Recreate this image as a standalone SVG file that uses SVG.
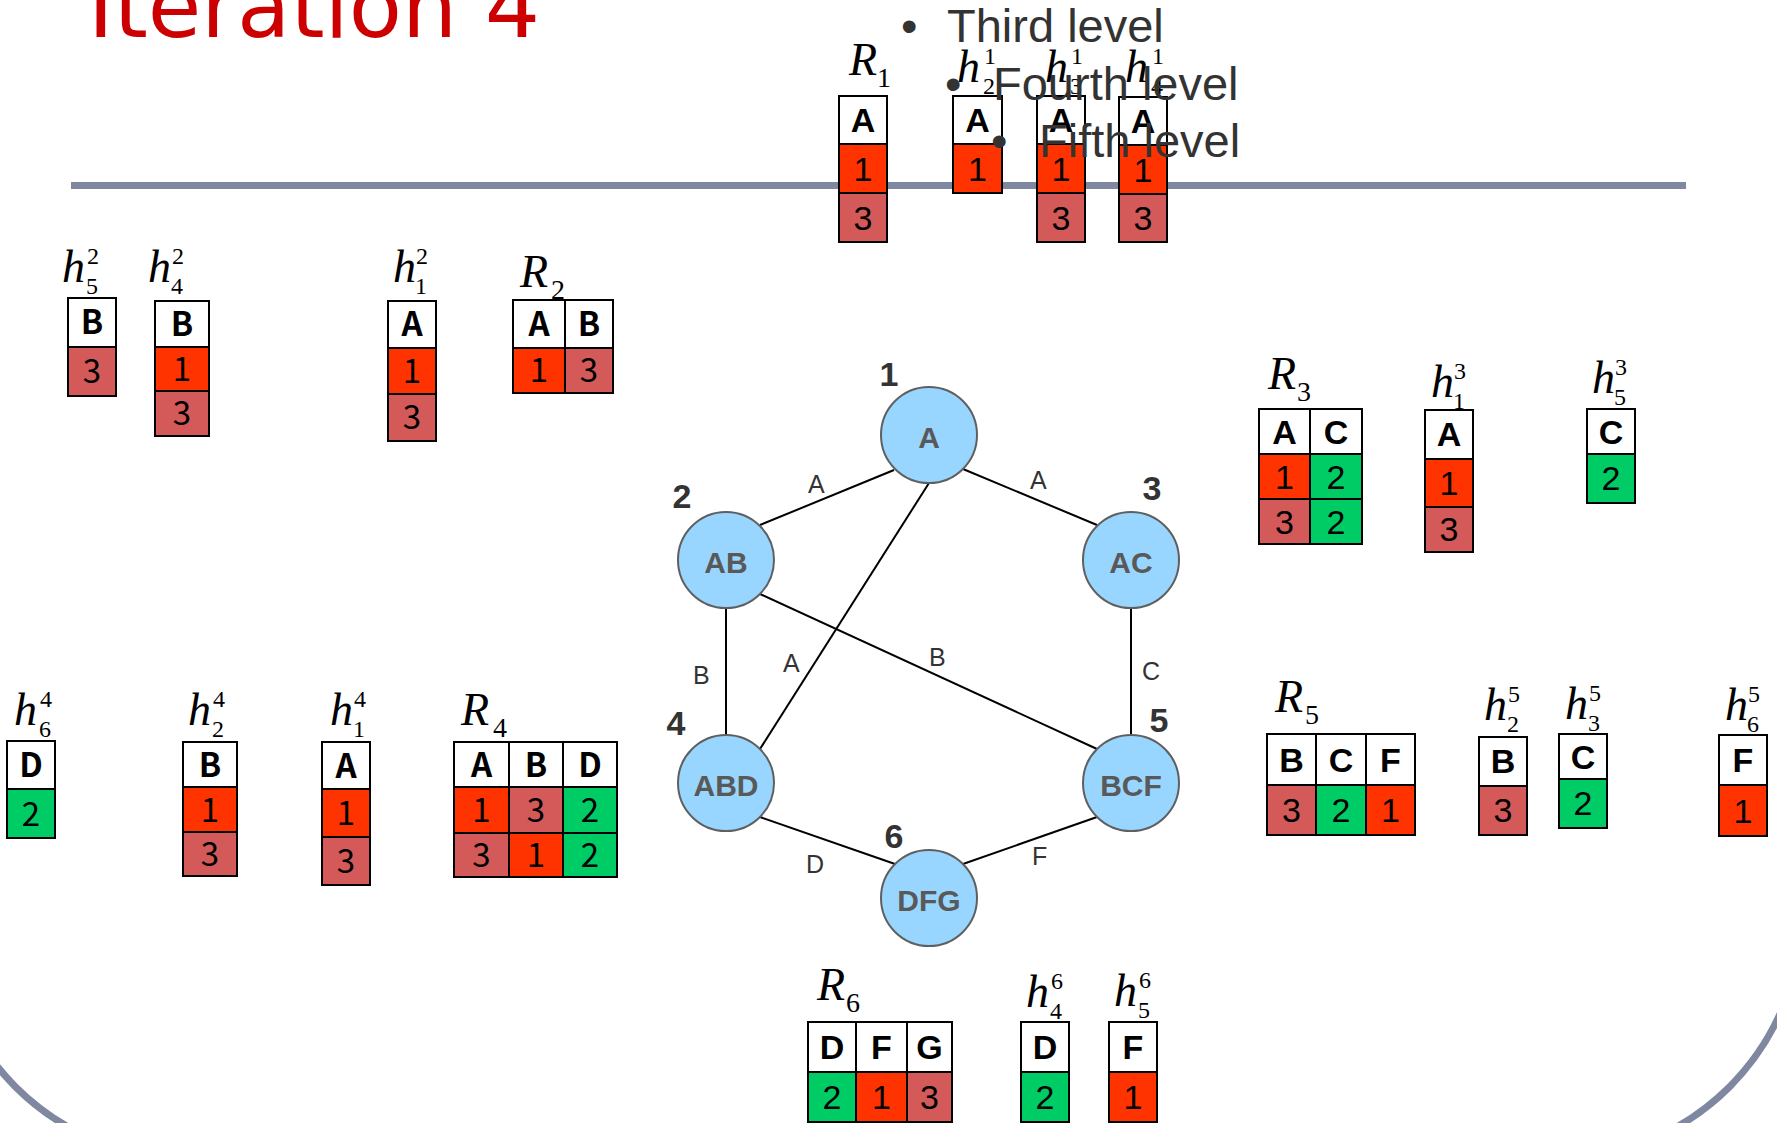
<svg xmlns="http://www.w3.org/2000/svg" width="1777" height="1123" viewBox="0 0 1777 1123">
  <style>
    .frame { fill: none; stroke: #7f88a0; stroke-width: 7; }
    .c { stroke: #000; stroke-width: 2; }
    .hd { fill: #fff; }
    .r1 { fill: #ff3300; }
    .r3 { fill: #d45a5a; }
    .g2 { fill: #00cc66; }
    .t { font-family: "Liberation Sans", Arial, sans-serif; font-size: 34px; text-anchor: middle; fill: #000; }
    .j { font-family: "Noto Sans CJK JP", "Liberation Sans", sans-serif; font-size: 33px; }
    .b { font-weight: bold; }
    .lab { font-family: "Liberation Serif", "Times New Roman", serif; font-style: italic; font-size: 46px; fill: #000; }
    .sc { font-family: "Liberation Serif", "Times New Roman", serif; font-size: 24px; fill: #000; }
    .rs { font-family: "Liberation Serif", "Times New Roman", serif; font-size: 28px; fill: #000; }
    .node circle { fill: #99d6ff; stroke: #5f5f5f; stroke-width: 2; }
    .node .nl { font-family: "Liberation Sans", Arial, sans-serif; font-weight: bold; font-size: 30px; fill: #595959; text-anchor: middle; }
    .node .num { font-family: "Liberation Sans", Arial, sans-serif; font-weight: bold; font-size: 34px; fill: #333; text-anchor: middle; }
    .edges line { stroke: #000; stroke-width: 2; }
    .el { font-family: "Liberation Sans", Arial, sans-serif; font-size: 25px; fill: #333; }
    .bul { font-family: "Liberation Sans", Arial, sans-serif; font-size: 47px; fill: #333; }
  </style>

  <rect width="1777" height="1123" fill="#fff"/>

  <!-- slide frame and title rule -->
  <rect class="frame" x="-57" y="-700" width="1859" height="1859" rx="247" ry="247"/>
  <rect x="71" y="182" width="1615" height="7" fill="#7f88a0"/>
  <text x="88" y="37" font-family="DejaVu Sans, sans-serif" font-size="87" fill="#cc0000">Iteration 4</text>

  <!-- connectors -->
  <g id="edges" class="edges">
    <line x1="894" y1="470" x2="760" y2="525"/>
    <line x1="963" y1="469" x2="1097" y2="525"/>
    <line x1="929" y1="483" x2="760" y2="749"/>
    <line x1="726" y1="608" x2="726" y2="735"/>
    <line x1="760" y1="594" x2="1097" y2="749"/>
    <line x1="1131" y1="608" x2="1131" y2="735"/>
    <line x1="760" y1="817" x2="895" y2="864"/>
    <line x1="1097" y1="817" x2="963" y2="864"/>
    <text class="el" x="808" y="493">A</text>
    <text class="el" x="1030" y="489">A</text>
    <text class="el" x="693" y="684">B</text>
    <text class="el" x="783" y="672">A</text>
    <text class="el" x="929" y="666">B</text>
    <text class="el" x="1142" y="680">C</text>
    <text class="el" x="806" y="873">D</text>
    <text class="el" x="1032" y="865">F</text>
  </g>

  <!-- graph nodes -->
  <g id="node1" class="node"><circle cx="929" cy="435" r="48"/><text class="nl" x="929" y="448">A</text><text class="num" x="889" y="386">1</text></g>
  <g id="node2" class="node"><circle cx="726" cy="560" r="48"/><text class="nl" x="726" y="573">AB</text><text class="num" x="682" y="508">2</text></g>
  <g id="node3" class="node"><circle cx="1131" cy="560" r="48"/><text class="nl" x="1131" y="573">AC</text><text class="num" x="1152" y="500">3</text></g>
  <g id="node4" class="node"><circle cx="726" cy="783" r="48"/><text class="nl" x="726" y="796">ABD</text><text class="num" x="676" y="735">4</text></g>
  <g id="node5" class="node"><circle cx="1131" cy="783" r="48"/><text class="nl" x="1131" y="796">BCF</text><text class="num" x="1159" y="732">5</text></g>
  <g id="node6" class="node"><circle cx="929" cy="898" r="48"/><text class="nl" x="929" y="911">DFG</text><text class="num" x="894" y="848">6</text></g>

  <!-- R1 and its messages -->
  <g id="R1">
    <text class="lab" x="849" y="75">R</text><text class="rs" x="877" y="87">1</text>
    <rect class="c hd" x="839" y="96" width="48" height="48"/>
    <rect class="c r1" x="839" y="144" width="48" height="49"/>
    <rect class="c r3" x="839" y="193" width="48" height="49"/>
    <text class="t b" x="863" y="132">A</text><text class="t" x="863" y="181">1</text><text class="t" x="863" y="230">3</text>
  </g>
  <g id="h21">
    <text class="lab" x="957" y="82">h</text><text class="sc" x="984" y="64">1</text><text class="sc" x="983" y="94">2</text>
    <rect class="c hd" x="953" y="96" width="49" height="48"/>
    <rect class="c r1" x="953" y="144" width="49" height="49"/>
    <text class="t b" x="977.5" y="132">A</text><text class="t" x="977.5" y="181">1</text>
  </g>
  <g id="h31">
    <text class="lab" x="1045" y="82">h</text><text class="sc" x="1071" y="64">1</text><text class="sc" x="1070" y="94">3</text>
    <rect class="c hd" x="1037" y="96" width="48" height="48"/>
    <rect class="c r1" x="1037" y="144" width="48" height="49"/>
    <rect class="c r3" x="1037" y="193" width="48" height="49"/>
    <text class="t b" x="1061" y="132">A</text><text class="t" x="1061" y="181">1</text><text class="t" x="1061" y="230">3</text>
  </g>
  <g id="h41">
    <text class="lab" x="1125" y="82">h</text><text class="sc" x="1152" y="64">1</text><text class="sc" x="1151" y="94">4</text>
    <rect class="c hd" x="1119" y="97" width="48" height="48"/>
    <rect class="c r1" x="1119" y="145" width="48" height="49"/>
    <rect class="c r3" x="1119" y="194" width="48" height="48"/>
    <text class="t b" x="1143" y="133">A</text><text class="t" x="1143" y="182">1</text><text class="t" x="1143" y="230">3</text>
  </g>

  <!-- R2 and its messages -->
  <g id="h52">
    <text class="lab" x="62" y="282">h</text><text class="sc" x="87" y="264">2</text><text class="sc" x="86" y="294">5</text>
    <rect class="c hd" x="68" y="298" width="48" height="49"/>
    <rect class="c r3" x="68" y="347" width="48" height="49"/>
    <text class="t j b" x="92" y="334">B</text><text class="t j" x="92" y="383">3</text>
  </g>
  <g id="h42">
    <text class="lab" x="148" y="282">h</text><text class="sc" x="172" y="264">2</text><text class="sc" x="171" y="294">4</text>
    <rect class="c hd" x="155" y="301" width="54" height="46"/>
    <rect class="c r1" x="155" y="347" width="54" height="44"/>
    <rect class="c r3" x="155" y="391" width="54" height="45"/>
    <text class="t j b" x="182" y="336">B</text><text class="t j" x="182" y="381">1</text><text class="t j" x="182" y="425">3</text>
  </g>
  <g id="h12">
    <text class="lab" x="393" y="282">h</text><text class="sc" x="416" y="264">2</text><text class="sc" x="415" y="294">1</text>
    <rect class="c hd" x="388" y="301" width="48" height="47"/>
    <rect class="c r1" x="388" y="348" width="48" height="46"/>
    <rect class="c r3" x="388" y="394" width="48" height="47"/>
    <text class="t j b" x="412" y="336">A</text><text class="t j" x="412" y="383">1</text><text class="t j" x="412" y="429">3</text>
  </g>
  <g id="R2">
    <text class="lab" x="520" y="287">R</text><text class="rs" x="551" y="299">2</text>
    <rect class="c hd" x="513" y="300" width="52" height="48"/>
    <rect class="c hd" x="565" y="300" width="48" height="48"/>
    <rect class="c r1" x="513" y="348" width="52" height="45"/>
    <rect class="c r3" x="565" y="348" width="48" height="45"/>
    <text class="t j b" x="539" y="336">A</text><text class="t j b" x="589" y="336">B</text>
    <text class="t j" x="539" y="382">1</text><text class="t j" x="589" y="382">3</text>
  </g>

  <!-- R3 and its messages -->
  <g id="R3">
    <text class="lab" x="1268" y="389">R</text><text class="rs" x="1297" y="401">3</text>
    <rect class="c hd" x="1259" y="409" width="51" height="45"/>
    <rect class="c hd" x="1310" y="409" width="52" height="45"/>
    <rect class="c r1" x="1259" y="454" width="51" height="45"/>
    <rect class="c g2" x="1310" y="454" width="52" height="45"/>
    <rect class="c r3" x="1259" y="499" width="51" height="45"/>
    <rect class="c g2" x="1310" y="499" width="52" height="45"/>
    <text class="t b" x="1284.5" y="444">A</text><text class="t b" x="1336" y="444">C</text>
    <text class="t" x="1284.5" y="489">1</text><text class="t" x="1336" y="489">2</text>
    <text class="t" x="1284.5" y="534">3</text><text class="t" x="1336" y="534">2</text>
  </g>
  <g id="h13">
    <text class="lab" x="1431" y="397">h</text><text class="sc" x="1454" y="379">3</text><text class="sc" x="1453" y="409">1</text>
    <rect class="c hd" x="1425" y="410" width="48" height="49"/>
    <rect class="c r1" x="1425" y="459" width="48" height="48"/>
    <rect class="c r3" x="1425" y="507" width="48" height="45"/>
    <text class="t b" x="1449" y="446">A</text><text class="t" x="1449" y="495">1</text><text class="t" x="1449" y="541">3</text>
  </g>
  <g id="h53">
    <text class="lab" x="1592" y="393">h</text><text class="sc" x="1615" y="375">3</text><text class="sc" x="1614" y="405">5</text>
    <rect class="c hd" x="1587" y="409" width="48" height="45"/>
    <rect class="c g2" x="1587" y="454" width="48" height="49"/>
    <text class="t b" x="1611" y="444">C</text><text class="t" x="1611" y="490">2</text>
  </g>

  <!-- R4 and its messages -->
  <g id="h64">
    <text class="lab" x="14" y="725">h</text><text class="sc" x="40" y="707">4</text><text class="sc" x="39" y="737">6</text>
    <rect class="c hd" x="7" y="741" width="48" height="48"/>
    <rect class="c g2" x="7" y="789" width="48" height="49"/>
    <text class="t j b" x="31" y="777">D</text><text class="t j" x="31" y="826">2</text>
  </g>
  <g id="h24">
    <text class="lab" x="188" y="725">h</text><text class="sc" x="213" y="707">4</text><text class="sc" x="212" y="737">2</text>
    <rect class="c hd" x="183" y="742" width="54" height="45"/>
    <rect class="c r1" x="183" y="787" width="54" height="45"/>
    <rect class="c r3" x="183" y="832" width="54" height="44"/>
    <text class="t j b" x="210" y="777">B</text><text class="t j" x="210" y="822">1</text><text class="t j" x="210" y="866">3</text>
  </g>
  <g id="h14">
    <text class="lab" x="330" y="725">h</text><text class="sc" x="354" y="707">4</text><text class="sc" x="353" y="737">1</text>
    <rect class="c hd" x="322" y="742" width="48" height="47"/>
    <rect class="c r1" x="322" y="789" width="48" height="48"/>
    <rect class="c r3" x="322" y="837" width="48" height="48"/>
    <text class="t j b" x="346" y="778">A</text><text class="t j" x="346" y="825">1</text><text class="t j" x="346" y="873">3</text>
  </g>
  <g id="R4">
    <text class="lab" x="461" y="725">R</text><text class="rs" x="493" y="737">4</text>
    <rect class="c hd" x="454" y="742" width="55" height="45"/>
    <rect class="c hd" x="509" y="742" width="54" height="45"/>
    <rect class="c hd" x="563" y="742" width="54" height="45"/>
    <rect class="c r1" x="454" y="787" width="55" height="46"/>
    <rect class="c r3" x="509" y="787" width="54" height="46"/>
    <rect class="c g2" x="563" y="787" width="54" height="46"/>
    <rect class="c r3" x="454" y="833" width="55" height="44"/>
    <rect class="c r1" x="509" y="833" width="54" height="44"/>
    <rect class="c g2" x="563" y="833" width="54" height="44"/>
    <text class="t j b" x="481.5" y="777">A</text><text class="t j b" x="536" y="777">B</text><text class="t j b" x="590" y="777">D</text>
    <text class="t j" x="481.5" y="822">1</text><text class="t j" x="536" y="822">3</text><text class="t j" x="590" y="822">2</text>
    <text class="t j" x="481.5" y="867">3</text><text class="t j" x="536" y="867">1</text><text class="t j" x="590" y="867">2</text>
  </g>

  <!-- R5 and its messages -->
  <g id="R5">
    <text class="lab" x="1275" y="712">R</text><text class="rs" x="1305" y="724">5</text>
    <rect class="c hd" x="1267" y="734" width="49" height="51"/>
    <rect class="c hd" x="1316" y="734" width="50" height="51"/>
    <rect class="c hd" x="1366" y="734" width="49" height="51"/>
    <rect class="c r3" x="1267" y="785" width="49" height="50"/>
    <rect class="c g2" x="1316" y="785" width="50" height="50"/>
    <rect class="c r1" x="1366" y="785" width="49" height="50"/>
    <text class="t b" x="1291.5" y="772">B</text><text class="t b" x="1341" y="772">C</text><text class="t b" x="1390.5" y="772">F</text>
    <text class="t" x="1291.5" y="822">3</text><text class="t" x="1341" y="822">2</text><text class="t" x="1390.5" y="822">1</text>
  </g>
  <g id="h25">
    <text class="lab" x="1484" y="720">h</text><text class="sc" x="1508" y="702">5</text><text class="sc" x="1507" y="732">2</text>
    <rect class="c hd" x="1479" y="737" width="48" height="49"/>
    <rect class="c r3" x="1479" y="786" width="48" height="49"/>
    <text class="t b" x="1503" y="773">B</text><text class="t" x="1503" y="822">3</text>
  </g>
  <g id="h35">
    <text class="lab" x="1565" y="719">h</text><text class="sc" x="1589" y="701">5</text><text class="sc" x="1588" y="731">3</text>
    <rect class="c hd" x="1559" y="734" width="48" height="45"/>
    <rect class="c g2" x="1559" y="779" width="48" height="49"/>
    <text class="t b" x="1583" y="769">C</text><text class="t" x="1583" y="815">2</text>
  </g>
  <g id="h65">
    <text class="lab" x="1725" y="720">h</text><text class="sc" x="1748" y="702">5</text><text class="sc" x="1747" y="732">6</text>
    <rect class="c hd" x="1719" y="735" width="48" height="50"/>
    <rect class="c r1" x="1719" y="785" width="48" height="51"/>
    <text class="t b" x="1743" y="772">F</text><text class="t" x="1743" y="823">1</text>
  </g>

  <!-- R6 and its messages -->
  <g id="R6">
    <text class="lab" x="817" y="1000">R</text><text class="rs" x="846" y="1012">6</text>
    <rect class="c hd" x="808" y="1022" width="48" height="50"/>
    <rect class="c hd" x="856" y="1022" width="51" height="50"/>
    <rect class="c hd" x="907" y="1022" width="45" height="50"/>
    <rect class="c g2" x="808" y="1072" width="48" height="50"/>
    <rect class="c r1" x="856" y="1072" width="51" height="50"/>
    <rect class="c r3" x="907" y="1072" width="45" height="50"/>
    <text class="t b" x="832" y="1059">D</text><text class="t b" x="881.5" y="1059">F</text><text class="t b" x="929.5" y="1059">G</text>
    <text class="t" x="832" y="1109">2</text><text class="t" x="881.5" y="1109">1</text><text class="t" x="929.5" y="1109">3</text>
  </g>
  <g id="h46">
    <text class="lab" x="1026" y="1007">h</text><text class="sc" x="1051" y="989">6</text><text class="sc" x="1050" y="1019">4</text>
    <rect class="c hd" x="1021" y="1022" width="48" height="50"/>
    <rect class="c g2" x="1021" y="1072" width="48" height="50"/>
    <text class="t b" x="1045" y="1059">D</text><text class="t" x="1045" y="1109">2</text>
  </g>
  <g id="h56">
    <text class="lab" x="1114" y="1006">h</text><text class="sc" x="1139" y="988">6</text><text class="sc" x="1138" y="1018">5</text>
    <rect class="c hd" x="1109" y="1022" width="48" height="50"/>
    <rect class="c r1" x="1109" y="1072" width="48" height="50"/>
    <text class="t b" x="1133" y="1059">F</text><text class="t" x="1133" y="1109">1</text>
  </g>

  <!-- outline placeholder bullets -->
  <g id="bullets">
    <text class="bul" x="901" y="42">•</text><text class="bul" x="947" y="42">Third level</text>
    <text class="bul" x="945" y="100">•</text><text class="bul" x="993" y="100">Fourth level</text>
    <text class="bul" x="991" y="157">•</text><text class="bul" x="1039" y="157">Fifth level</text>
  </g>
</svg>
